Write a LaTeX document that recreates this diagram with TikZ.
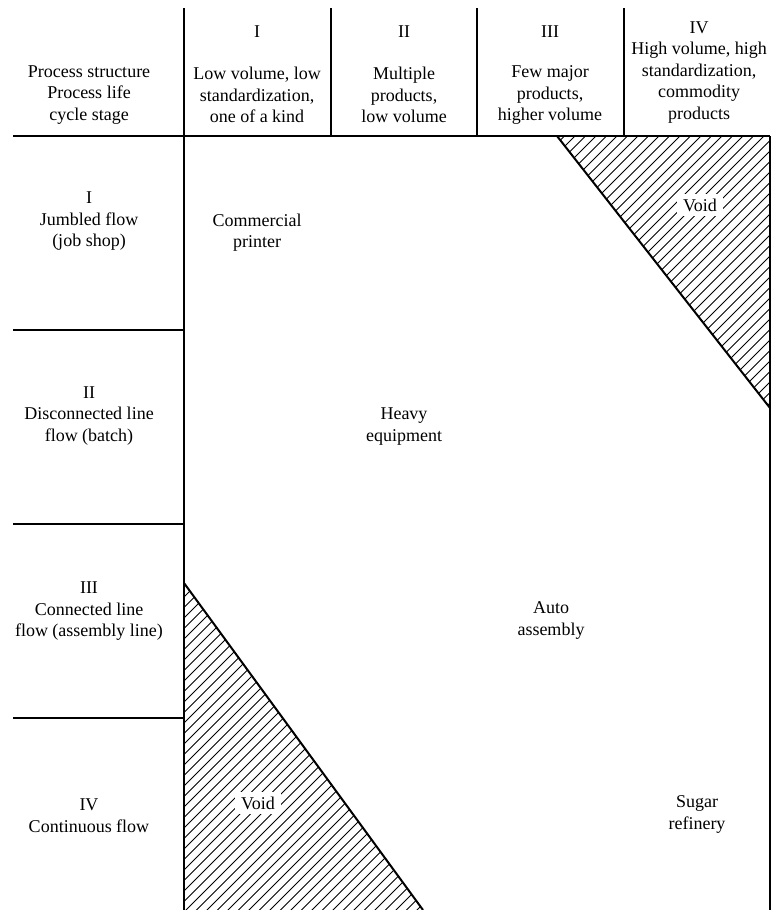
\documentclass[tikz,border=0pt]{standalone}
\usepackage{fontspec}
\setmainfont{Liberation Serif}
\begin{document}
\begin{tikzpicture}[x=1pt,y=-1pt,
  rule/.style={line width=2pt},
  hatch/.style={line width=0.8pt},
  txt/.style={align=center,inner sep=0pt,font=\fontsize{18}{21.5}\selectfont},
  voidlbl/.style={txt,fill=white,inner xsep=6pt,inner ysep=5pt}]
\useasboundingbox (0,0) rectangle (776,910);

% grid rules
\draw[rule] (13,136) -- (770,136);
\draw[rule] (184,8) -- (184,910);
\foreach \cx in {331,477,624} \draw[rule] (\cx,8) -- (\cx,136);
\draw[rule] (770,136) -- (770,910);
\foreach \ry in {330,524,718} \draw[rule] (13,\ry) -- (184,\ry);

% upper void region
\begin{scope}
  \clip (557,136) -- (770,136) -- (770,408) -- cycle;
  \foreach \c in {690,700.5,...,1190} \draw[hatch] (\c-100,100) -- (\c-450,450);
\end{scope}
\draw[rule] (557,136) -- (770,408);

% lower void region
\begin{scope}
  \clip (184,583) -- (184,910) -- (423,910) -- cycle;
  \foreach \c in {760,770.5,...,1340} \draw[hatch] (\c-560,560) -- (\c-930,930);
\end{scope}
\draw[rule] (184,583) -- (423,910);

% column headings
\node[txt] (hdr) at (89,95) {Process structure\\Process life\\cycle stage};
\node[txt] (c1n) at (257,32) {I};
\node[txt] (c1) at (257,95) {Low volume, low\\standardization,\\one of a kind};
\node[txt] (c2n) at (404,32) {II};
\node[txt] (c2) at (404,95) {Multiple\\products,\\low volume};
\node[txt] (c3n) at (550,32) {III};
\node[txt] (c3) at (550,95) {Few major\\products,\\higher volume};
\node[txt] (c4) at (699,72.5) {IV\\High volume, high\\standardization,\\commodity\\products};

% row headings
\node[txt] (r1) at (89,221.5) {I\\Jumbled flow\\(job shop)};
\node[txt] (r2) at (89,416) {II\\Disconnected line\\flow (batch)};
\node[txt] (r3) at (89,611.5) {III\\Connected line\\flow (assembly line)};
\node[txt] (r4) at (89,815.5) {IV\\Continuous flow};

% examples on the diagonal
\node[txt] (e1) at (257,232.5) {Commercial\\printer};
\node[txt] (e2) at (404,426.5) {Heavy\\equipment};
\node[txt] (e3) at (551,620.5) {Auto\\assembly};
\node[txt] (e4) at (697,814.5) {Sugar\\refinery};

% void labels
\node[voidlbl] (v1) at (700,205) {Void};
\node[voidlbl] (v2) at (258,803) {Void};
\end{tikzpicture}
\end{document}
